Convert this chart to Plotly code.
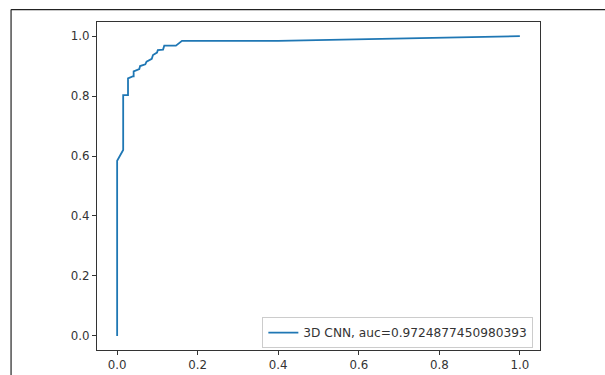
import plotly.graph_objects as go

fpr = [0.0, 0.0, 0.015, 0.015, 0.027, 0.027, 0.040, 0.041, 0.041, 0.055, 0.057, 0.070, 0.073, 0.086, 0.089, 0.099, 0.101, 0.114, 0.117, 0.146, 0.161, 0.40, 1.0]
tpr = [0.0, 0.584, 0.620, 0.803, 0.803, 0.859, 0.866, 0.866, 0.882, 0.890, 0.900, 0.906, 0.915, 0.924, 0.937, 0.945, 0.953, 0.955, 0.968, 0.968, 0.984, 0.984, 1.0]
label = "3D CNN, auc=0.9724877450980393"
ticks = [0.0, 0.2, 0.4, 0.6, 0.8, 1.0]

fig = go.Figure()
fig.add_trace(go.Scatter(x=fpr, y=tpr, mode="lines", name=label,
                         line=dict(color="#1f77b4", width=1.8)))

axis_common = dict(
    showgrid=False, zeroline=False, showline=True, mirror=True,
    linecolor="#333333", linewidth=1, automargin=False,
    ticks="outside", ticklen=4, tickwidth=1, tickcolor="#333333",
    tickvals=ticks, tickformat=".1f",
    tickfont=dict(family="DejaVu Sans", size=11.8, color="#333333"),
)
fig.update_xaxes(range=[-0.05, 1.05], **axis_common)
fig.update_yaxes(range=[-0.047, 1.047], **axis_common)

fig.update_layout(
    width=605, height=375,
    margin=dict(l=97, r=65, t=22, b=25, autoexpand=False),
    paper_bgcolor="white", plot_bgcolor="white",
    showlegend=True,
    legend=dict(x=0.985, y=0.006, xanchor="right", yanchor="bottom",
                bgcolor="white", bordercolor="#cccccc", borderwidth=1,
                font=dict(family="DejaVu Sans", size=12.2, color="#333333"),
                itemwidth=30, tracegroupgap=0),
    font=dict(family="DejaVu Sans"),
)

# outer screenshot frame
fig.add_shape(type="line", xref="paper", yref="paper",
              x0=-0.194, x1=1.2, y0=1.038, y1=1.038,
              line=dict(color="#222222", width=1.2))
fig.add_shape(type="line", xref="paper", yref="paper",
              x0=-0.194, x1=-0.194, y0=1.038, y1=-0.1,
              line=dict(color="#222222", width=1.2))

fig.write_html("out.html", config={"displayModeBar": False},
               post_script="document.body.style.margin='0';document.body.style.overflow='hidden';")
